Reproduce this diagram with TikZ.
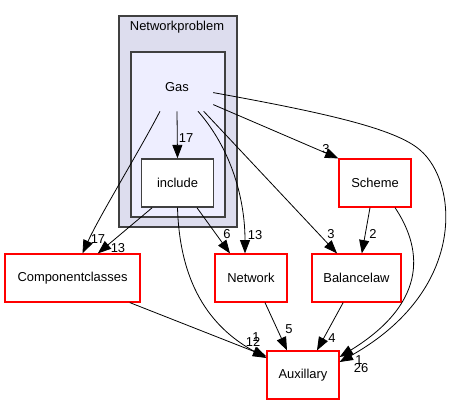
\documentclass[tikz,border=0pt]{standalone}
\usepackage{fontspec}
\setmainfont{Liberation Sans}
\usepackage{tikz}
\usetikzlibrary{arrows.meta,positioning}
\definecolor{clusterout}{HTML}{DDDDEE}
\definecolor{clusterin}{HTML}{EEEEFF}
\definecolor{dirpen}{HTML}{404040}
\definecolor{dirred}{HTML}{FF0000}
\tikzset{
  dirbox/.style={rectangle, minimum height=36pt, draw=dirred, line width=0.9pt, fill=white},
  incbox/.style={rectangle, minimum height=36pt, draw=dirpen, line width=1.1pt, fill=white}
}

\begin{document}
\begin{tikzpicture}[x=0.75pt,y=-0.75pt,font=\fontsize{9.7}{11}\selectfont]
      \useasboundingbox (0,0) rectangle (464,404);

      % clusters
      \draw[fill=clusterout,draw=dirpen,line width=1.1pt] (119,16) rectangle (237,227);
      \draw[fill=clusterin,draw=dirpen,line width=1.1pt] (131,52) rectangle (225,217);
      \node (Title) at (177,27) {Networkproblem};
      \node[minimum width=54pt,minimum height=36pt] (Gas) at (177,87) {Gas};

      \node[incbox,minimum width=54pt] (Inc) at (177.5,183) {include};
      \node[dirbox,minimum width=101.25pt] (Comp) at (72.5,278) {Componentclasses};
      \node[dirbox,minimum width=54pt] (Net) at (251,278) {Network};
      \node[dirbox,minimum width=66.75pt] (Bal) at (356.5,278) {Balancelaw};
      \node[dirbox,minimum width=54pt] (Sch) at (375,183) {Scheme};
      \node[dirbox,minimum width=54pt] (Aux) at (303,375) {Auxillary};

      \begin{scope}[>={Stealth[inset=0pt,length=10pt,width=7.5pt,black]}, line width=0.6pt]
          \draw[->] (Gas.south) -- (Inc.north);
          \draw[->] ([xshift=-12.75pt]Gas.south) .. controls (140,150) and (100,215) .. ([xshift=7.5pt]Comp.north);
          \draw[->] ([xshift=15.75pt]Gas.south) .. controls (232,150) and (245,200) .. ([xshift=-4.5pt]Net.north);
          \draw[->] ([xshift=20pt]Gas.south) -- ([xshift=-14.6pt]Bal.north);
          \draw[->] ([yshift=5pt]Gas.south east) -- (Sch.north west);
          \draw[->] ([yshift=14pt]Gas.south east) .. controls (320,112) and (395,128) .. (420,150)
                .. controls (458,182) and (468,290) .. ([yshift=9.75pt]Aux.east);
          \draw[->] ([xshift=-19pt]Inc.south) -- ([xshift=19pt]Comp.north);
          \draw[->] ([xshift=14.6pt]Inc.south) -- ([xshift=-15.75pt]Net.north);
          \draw[->] (Inc.south) .. controls (180,290) and (215,330) .. ([yshift=12.75pt]Aux.west);
          \draw[->] ([xshift=43pt]Comp.south) -- ([yshift=14pt]Aux.west);
          \draw[->] ([xshift=10.5pt]Net.south) -- ([xshift=-12pt]Aux.north);
          \draw[->] ([xshift=-10pt]Bal.south) -- ([xshift=10.5pt]Aux.north);
          \draw[->] ([xshift=-3.75pt]Sch.south) -- ([xshift=4pt]Bal.north);
          \draw[->] ([xshift=15pt]Sch.south) .. controls (420,245) and (432,300) .. ([yshift=13.5pt]Aux.east);
      \end{scope}

      % edge counts
      \node (n1) at (186,138) {17};
      \node (n2) at (98,239) {17};
      \node (n3) at (118,248) {13};
      \node (n4) at (227,234) {6};
      \node (n5) at (255,235) {13};
      \node (n6) at (331,234) {3};
      \node (n7) at (326,149) {3};
      \node (n8) at (373,234) {2};
      \node (n9) at (289,329) {5};
      \node (n10) at (332,338) {4};
      \node (n11) at (256,337) {1};
      \node (n12) at (253,342) {12};
      \node (n13) at (359,360) {1};
      \node (n14) at (361,368) {26};
\end{tikzpicture}
\end{document}
